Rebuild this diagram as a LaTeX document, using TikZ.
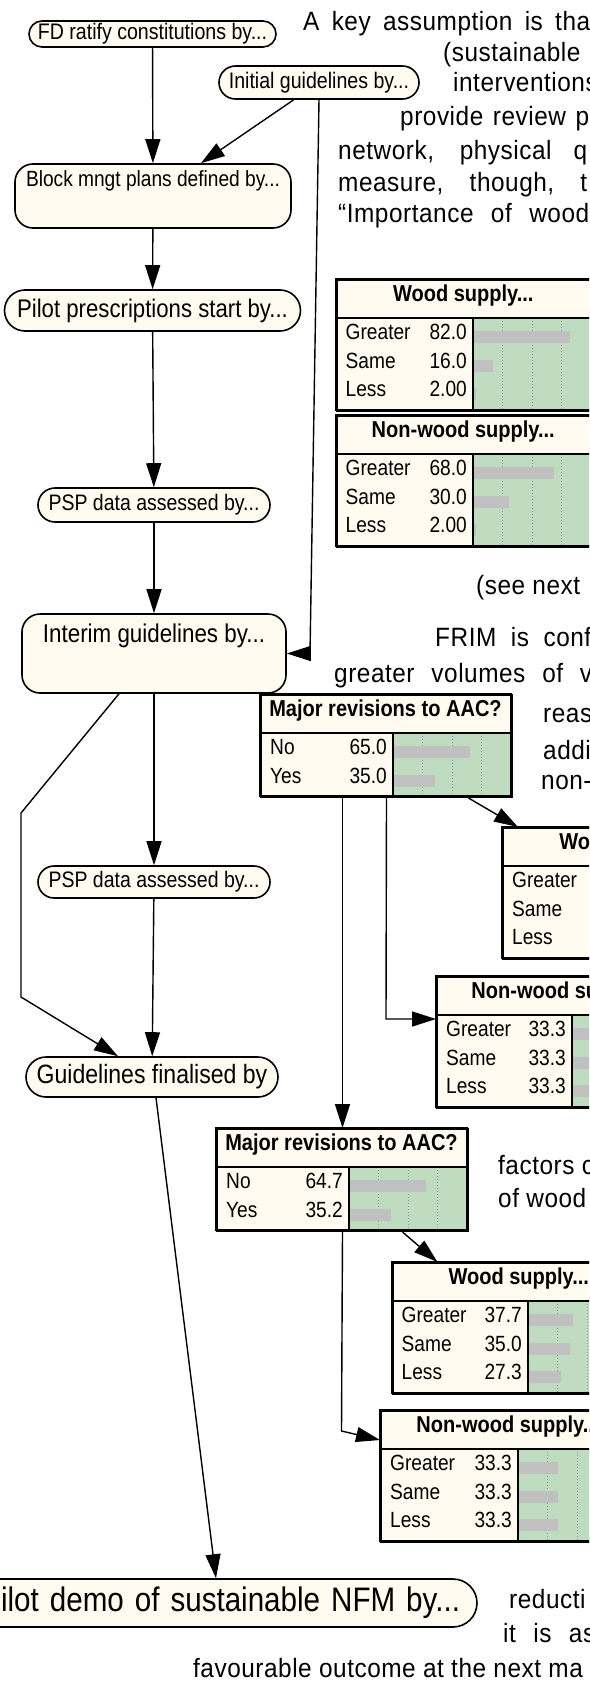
\documentclass[tikz,border=0pt]{standalone}
\usepackage{fontspec}
\setmainfont{Liberation Sans}[FakeStretch=0.87]
\newfontfamily\bodyfont{Liberation Sans}[FakeStretch=0.92,LetterSpace=2]
\usetikzlibrary{arrows.meta,calc}
\newcommand\fsz[1]{\fontsize{#1}{#1}\selectfont}

\definecolor{cream}{RGB}{255,251,240}
\definecolor{bargreen}{RGB}{192,220,192}
\definecolor{bargray}{RGB}{192,192,192}
\definecolor{gridgray}{RGB}{150,150,150}

\tikzset{
  every node/.style={inner sep=0pt},
  conn/.style={line width=1.4pt, -{Triangle[length=24pt,width=15pt]}},
  pill/.style={draw, line width=1.6pt, fill=cream, rounded corners=#1},
  rbox/.style={draw, line width=1.6pt, fill=cream, rounded corners=18pt},
  tabbox/.style={draw, line width=2pt, fill=cream, anchor=north west},
  tabline/.style={line width=2pt},
  gridln/.style={draw=gridgray, line width=0.7pt, dash pattern=on 1pt off 2pt},
  body/.style={anchor=base west, font=\bodyfont\fsz{26.5}},
}

% justified line of running text, spread over a given width
\newcommand\jline[2]{\makebox[#1][s]{#2}}

% Belief-network monitor: #1 name, #2 left, #3 top, #4 title,
% #5 width of the label column, #6 number of states, #7 states label/value/percent
\newcommand\bnt[7]{%
  \pgfmathsetmacro\tabw{#5+118}%
  \pgfmathsetmacro\tabh{45+28.5*#6}%
  \node[tabbox, minimum width=\tabw pt, minimum height=\tabh pt] (#1) at (#2,#3) {};
  \begin{scope}[shift={(#2,#3)}]
    \fill[bargreen] (#5,39) rectangle (\tabw,\tabh);
    \foreach \f in {0.25,0.5,0.75}{\draw[gridln] ({#5+118*\f},39) -- ({#5+118*\f},\tabh);}
    \foreach \rl/\rv/\rp [count=\i] in {#7}{%
      \pgfmathsetmacro\yy{44+28.5*(\i-0.5)}%
      \fill[bargray] (#5+1,\yy-6) rectangle ({#5+1+1.17*\rp},\yy+6);
      \node[anchor=mid west, font=\fsz{22}] at (10,\yy) {\rl};
      \node[anchor=mid east, font=\fsz{22}] at (#5-6,\yy) {\rv};
    }
    \draw[tabline] (0,39) -- (\tabw,39) (#5,39) -- (#5,\tabh);
    \draw[tabline] (0,0) rectangle (\tabw,\tabh);
    \node[anchor=mid, font=\bfseries\fsz{23}] at (\tabw/2,19.5) {#4};
  \end{scope}}

\begin{document}
\begin{tikzpicture}[x=1pt,y=-1pt]
\path[use as bounding box] (0,0) rectangle (589,1686);
\clip (0,0) rectangle (589,1686);
\fill[white] (0,0) rectangle (589,1686);

% ---- running text of the page around the figure
\node[body] (t1) at (303,31) {\jline{287pt}{A key assumption is tha}};
\node[body] (t2) at (443,62) {(sustainable};
\node[body] (t3) at (453,91) {interventions};
\node[body] (t4) at (400,125) {\jline{189pt}{provide review p}};
\node[body] (t5) at (338,159) {\jline{249pt}{network, physical q}};
\node[body] (t6) at (338,191) {\jline{249pt}{measure, though, t}};
\node[body] (t7) at (338,222) {\jline{251pt}{“Importance of wood}};
\node[body] (t8) at (476,594) {(see next};
\node[body] (t9) at (435,646) {\jline{156pt}{FRIM is conf}};
\node[body] (t10) at (334,682) {\jline{258pt}{greater volumes of v}};
\node[body] (t11) at (543,722) {reas};
\node[body] (t12) at (543,759) {addi};
\node[body] (t13) at (541,789) {non-};
\node[body] (t14) at (498,1174) {factors c};
\node[body] (t15) at (498,1207) {of wood};
\node[body] (t16) at (509,1608) {reducti};
\node[body] (t17) at (503,1642) {\jline{92pt}{it is as}};
\node[body] (t18) at (193,1677) {favourable outcome at the next ma};

% ---- decision / milestone nodes
\node[pill=13pt, minimum width=247pt, minimum height=26pt, font=\fsz{22.5}] (fd) at (152.5,34) {FD ratify constitutions by...};
\node[pill=16.5pt, minimum width=200pt, minimum height=33pt, font=\fsz{22.5}] (init) at (319,82.5) {Initial guidelines by...};
\node[rbox, minimum width=276pt, minimum height=64pt,
      label={[anchor=center, yshift=-18pt, font=\fsz{22}]north:Block mngt plans defined by...}] (block) at (153,196) {};
\node[pill=20.5pt, minimum width=296pt, minimum height=41pt, font=\fsz{25.5}] (pilotp) at (152.5,310.5) {Pilot prescriptions start by...};
\node[pill=17pt, minimum width=232pt, minimum height=34pt, font=\fsz{22.4}] (psp1) at (154,505) {PSP data assessed by...};
\node[rbox, minimum width=264pt, minimum height=79pt,
      label={[anchor=center, yshift=-23pt, font=\fsz{25.7}]north:Interim guidelines by...}] (interim) at (154,653.5) {};
\node[pill=16pt, minimum width=232pt, minimum height=32pt, font=\fsz{22.4}] (psp2) at (154,882) {PSP data assessed by...};
\node[pill=20pt, minimum width=252pt, minimum height=40pt, font=\fsz{26.5}] (guide) at (152,1077) {Guidelines finalised by};
\node[pill=24pt, minimum height=48pt, text width=520pt, align=right, inner xsep=17pt, font=\fsz{34}] (demo) at (200,1603)
     {Pilot\hskip11pt demo\hskip11pt of\hskip11pt sustainable\hskip11pt NFM\hskip11pt by...};

% ---- belief monitors
\bnt{woodA}{335.5}{279}{Wood supply...}{137.5}{3}{Greater/82.0/82.0, Same/16.0/16.0, Less/2.00/2.0}
\bnt{nwA}{335.5}{415}{Non-wood supply...}{137.5}{3}{Greater/68.0/68.0, Same/30.0/30.0, Less/2.00/2.0}
\bnt{aacA}{260}{694}{Major revisions to AAC?}{133}{2}{No/65.0/65.0, Yes/35.0/35.0}
\bnt{woodB}{502}{827}{Wood supply...}{137}{3}{Greater//0, Same//0, Less//0}
\bnt{nwB}{436}{976}{Non-wood supply...}{136}{3}{Greater/33.3/33.3, Same/33.3/33.3, Less/33.3/33.3}
\bnt{aacB}{216}{1128}{Major revisions to AAC?}{133}{2}{No/64.7/64.7, Yes/35.2/35.2}
\bnt{woodC}{391.5}{1262}{Wood supply...}{136.5}{3}{Greater/37.7/37.7, Same/35.0/35.0, Less/27.3/27.3}
\bnt{nwC}{380}{1410}{Non-wood supply...}{138}{3}{Greater/33.3/33.3, Same/33.3/33.3, Less/33.3/33.3}

% ---- bend points of the connectors
\coordinate (kI) at (310,653.5);
\coordinate (kL1) at (21,813);
\coordinate (kL2) at (21,997);
\coordinate (kA) at (386,1019);
\coordinate (kB) at (341.5,1431);

% ---- connectors
\draw[conn] (fd) -- (block);
\draw[conn] (init) -- (block);
\draw[conn] (init.south) -- (kI) -- (kI -| interim.east);
\draw[conn] (block) -- (pilotp);
\draw[conn] (pilotp) -- (psp1);
\draw[conn] (psp1) -- (interim);
\draw[conn] (interim) -- (psp2);
\draw[conn] ([xshift=-35pt]interim.south) -- (kL1) -- (kL2) -- ([xshift=-34pt]guide.north);
\draw[conn] (psp2) -- (guide);
\draw[conn] ([xshift=4pt]guide.south) -- ([xshift=16pt]demo.north);
\draw[conn] (aacA.south -| aacB.north) -- (aacB.north);
\draw[conn] ([xshift=82pt]aacA.south) -- ([xshift=16pt]woodB.north west);
\draw[conn] (aacA.south) -- (kA) -- (kA -| nwB.west);
\draw[conn] ([xshift=60pt]aacB.south) -- ([xshift=46pt]woodC.north west);
\draw[conn] (aacB.south) -- (kB) -- ([yshift=-30pt]nwC.north west);
\end{tikzpicture}
\end{document}
